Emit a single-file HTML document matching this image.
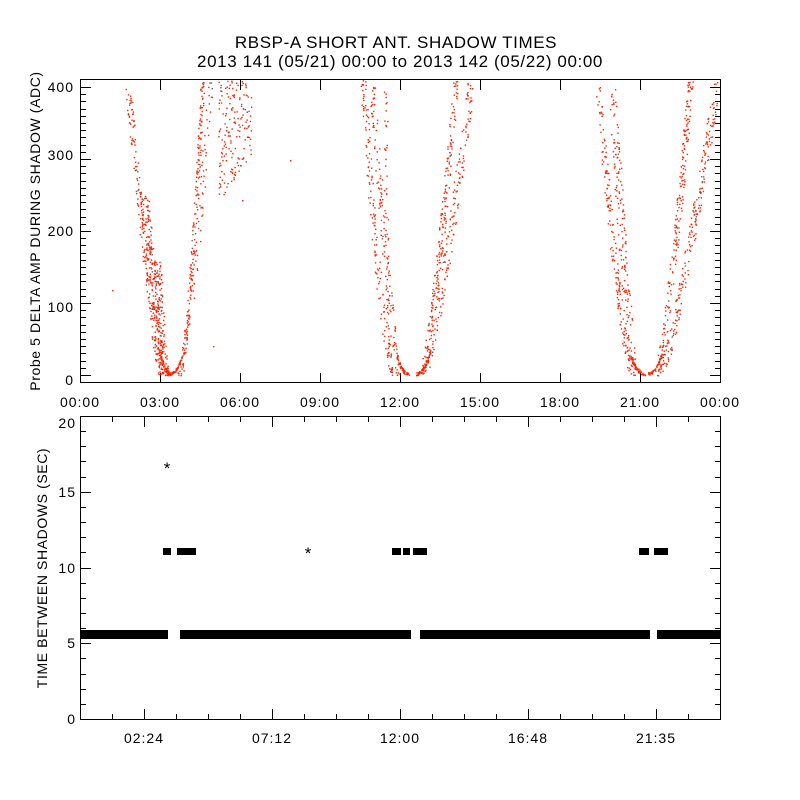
<!DOCTYPE html>
<html><head><meta charset="utf-8"><style>
body{margin:0;background:#fff}
svg{display:block}
text{font-family:"Liberation Sans",sans-serif;fill:#000}
.t{letter-spacing:0.6px}
.l{letter-spacing:1px}
</style></head><body>
<svg id="s" width="800" height="800" xmlns="http://www.w3.org/2000/svg">
<rect width="800" height="800" fill="#fff"/>
<text class="t" x="396" y="48" font-size="17" text-anchor="middle">RBSP-A SHORT ANT. SHADOW TIMES</text>
<text class="t" x="400" y="67" font-size="17" text-anchor="middle">2013 141 (05/21) 00:00 to 2013 142 (05/22) 00:00</text>
<g id="gtop"></g><g id="gbot"></g>
<rect x="80.5" y="79.5" width="640" height="303" fill="none" stroke="#000"/>
<rect x="80.5" y="416.5" width="640" height="303" fill="none" stroke="#000"/>
<g class="l" font-size="14" text-anchor="end">
<text x="74" y="92">400</text><text x="74" y="160">300</text><text x="74" y="236">200</text><text x="74" y="312">100</text><text x="74" y="385">0</text>
</g>
<g class="l" font-size="14" text-anchor="middle">
<text x="80" y="407">00:00</text><text x="160" y="407">03:00</text><text x="240" y="407">06:00</text><text x="320" y="407">09:00</text><text x="400" y="407">12:00</text><text x="480" y="407">15:00</text><text x="560" y="407">18:00</text><text x="640" y="407">21:00</text><text x="720" y="407">00:00</text>
<text x="144" y="743">02:24</text><text x="272" y="743">07:12</text><text x="400" y="743">12:00</text><text x="528" y="743">16:48</text><text x="656" y="743">21:35</text>
</g>
<g class="l" font-size="14" text-anchor="end">
<text x="76" y="428">20</text><text x="76" y="497">15</text><text x="76" y="573">10</text><text x="76" y="648">5</text><text x="76" y="724">0</text>
</g>
<text class="t" transform="translate(40,231) rotate(-90)" font-size="14" text-anchor="middle">Probe 5 DELTA AMP DURING SHADOW (ADC)</text>
<text class="t" transform="translate(47,568) rotate(-90)" font-size="14" text-anchor="middle">TIME BETWEEN SHADOWS (SEC)</text>
</svg>
<script>
(function(){
var NS="http://www.w3.org/2000/svg";
var seed=7;function r(){seed=(seed*16807)%2147483647;return seed/2147483647;}
var gt=document.getElementById('gtop'),gb=document.getElementById('gbot');
function line(g,x1,y1,x2,y2){var l=document.createElementNS(NS,'line');l.setAttribute('x1',x1);l.setAttribute('y1',y1);l.setAttribute('x2',x2);l.setAttribute('y2',y2);l.setAttribute('stroke','#000');g.appendChild(l);}
for(var i=0;i<=8;i++){var x=80.5+80*i;line(gt,x,383,x,373);line(gt,x,80,x,90);}
for(var v=-10;v<=410;v+=10){var y=375-v*0.72;if(y<80||y>382)continue;var L=(v%100==0)?10:5;y=Math.round(y)+0.5;line(gt,81,y,81+L,y);line(gt,720,y,720-L,y);}
for(var i=0;i<=20;i++){var x=80.5+32*i;var L=(i%4==2)?10:5;line(gb,x,719,x,719-L);line(gb,x,417,x,417+L);}
for(var v=0;v<=20;v++){var y=Math.round(719-v*15.15)+0.5;var L=(v%5==0)?10:5;line(gb,81,y,81+L,y);line(gb,720,y,720-L,y);}
var pts="";
function dot(x,y,c){if(x<81||x>719||y<80||y>382)return;pts+='<rect x="'+x.toFixed(1)+'" y="'+y.toFixed(1)+'" width="1.4" height="1.4" fill="'+(c||(r()<0.06?'#666':'#ff2200'))+'"/>';}
function branch(xb,xt,vmin,vmax,n,jit,pw){for(var k=0;k<n;k++){var t=r();var v=vmin+(vmax-vmin)*t;var f=Math.pow(Math.max(0,(v-vmin))/(400-vmin),pw);var x=xb+(xt-xb)*f+(r()-0.5)*jit;dot(x,375-v*0.72);}}
function tail(x1,x2,n){for(var k=0;k<n;k++){var t=r();var x=x1+(x2-x1)*t;var v=Math.abs(t*t)*25*(x2>x1?1:1);dot(x+(r()-0.5)*2,375-(25*(1-t)*(1-t))*0.72-r()*3);}}
branch(165,128,0,400,160,6,0.7);branch(164,138,0,250,200,10,0.6);branch(166,150,0,160,150,8,0.6);
tail(160,170,50);tail(182,170,-0);
for(var k=0;k<50;k++){var t=r();var x=170+t*12;dot(x,375-(25*t*t)*0.72-r()*3);}
branch(178,202,0,410,180,4,0.6);branch(179,210,0,410,80,6,0.7);
for(var k=0;k<200;k++){var x=218+r()*34,v=240+r()*170+(x-218)*2;dot(x,375-v*0.72);}
dot(112,290);dot(242,200);dot(213,346);dot(290,160);
branch(395,363,0,410,140,6,0.6);branch(398,372,0,400,120,6,0.8);branch(392,385,0,410,60,4,0.3);
tail(396,408,50);
for(var k=0;k<50;k++){var t=r();var x=416+t*14;dot(x,375-(30*t*t)*0.72-r()*3);}
branch(420,455,0,410,200,6,0.7);branch(422,470,0,410,170,8,0.75);
branch(632,598,0,400,160,6,0.7);branch(634,612,0,400,160,8,0.8);
tail(630,644,60);
for(var k=0;k<50;k++){var t=r();var x=648+t*14;dot(x,375-(30*t*t)*0.72-r()*3);}
branch(656,690,0,410,200,6,0.75);branch(660,716,0,410,220,8,0.8);
gt.insertAdjacentHTML('beforeend',pts);
var b='';
function band(x1,x2){b+='<rect x="'+x1+'" y="630" width="'+(x2-x1)+'" height="9" fill="#000"/>';}
band(81,168);band(180,411);band(420,650);band(657,720);
function star(x,y){b+='<text x="'+x+'" y="'+(y+8)+'" font-size="17" text-anchor="middle" font-family="Liberation Mono,monospace">*</text>';}
function cl(x1,x2){b+='<rect x="'+x1+'" y="548" width="'+(x2-x1)+'" height="7" fill="#000"/>';}
cl(163,171);cl(177,196);cl(392,401);cl(403,410);cl(413,427);cl(639,649);cl(654,668);
star(167,466);star(308,551);
gb.insertAdjacentHTML('beforeend',b);
})();
</script>
</body></html>
